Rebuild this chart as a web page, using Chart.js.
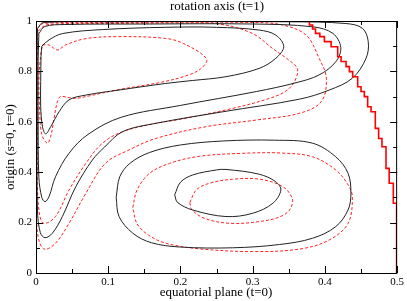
<!DOCTYPE html>
<html>
<head>
<meta charset="utf-8">
<script src="https://cdn.jsdelivr.net/npm/chart.js@4/dist/chart.umd.min.js"></script>
<style>
  html, body { margin: 0; padding: 0; background: #fff; }
</style>
</head>
<body>
<canvas id="c" width="407" height="301"></canvas>
<script>
// ─── Axis ticks ───────────────────────────────────────────────────
const xTicks = [0, 0.1, 0.2, 0.3, 0.4, 0.5];
const xMinor = [0.05, 0.15, 0.25, 0.35, 0.45];
const yTicks = [0, 0.2, 0.4, 0.6, 0.8, 1];
const yMinor = [0.1, 0.3, 0.5, 0.7, 0.9];

// ─── Black (solid) contours, [x, y] ───────────────────────────────
const black1 = [[0.008,0.90],[0.018,0.925],[0.0365,0.95],[0.092,0.966],[0.179,0.975],[0.25,0.975],[0.309,0.964],[0.332,0.944],[0.343,0.898],[0.332,0.852],[0.309,0.812],[0.263,0.779],[0.217,0.764],[0.179,0.752],[0.115,0.726],[0.069,0.706],[0.0457,0.687],[0.032,0.64],[0.0203,0.58],[0.0134,0.552],[0.009,0.58],[0.0065,0.66],[0.0065,0.76],[0.007,0.86],[0.008,0.90]];
const black2 = [[0.004,0.95],[0.012,0.978],[0.04,0.986],[0.15,0.988],[0.3,0.988],[0.383,0.977],[0.411,0.951],[0.422,0.895],[0.415,0.838],[0.392,0.786],[0.36,0.755],[0.305,0.72],[0.2,0.665],[0.118,0.618],[0.072,0.55],[0.0457,0.475],[0.027,0.382],[0.018,0.303],[0.0125,0.283],[0.008,0.30],[0.004,0.38],[0.003,0.6],[0.003,0.85],[0.004,0.95]];
const black3 = [[0.002,0.97],[0.01,0.994],[0.1,0.997],[0.35,0.997],[0.429,0.99],[0.452,0.971],[0.46,0.918],[0.457,0.852],[0.438,0.773],[0.406,0.726],[0.365,0.69],[0.259,0.64],[0.166,0.594],[0.12,0.561],[0.095,0.5],[0.078,0.448],[0.055,0.342],[0.0365,0.224],[0.0227,0.158],[0.0125,0.14],[0.006,0.16],[0.002,0.25],[0.0015,0.6],[0.0015,0.9],[0.002,0.97]];
const blackOuter = [[0.111,0.30],[0.116,0.382],[0.13,0.435],[0.157,0.478],[0.2,0.508],[0.26,0.524],[0.33,0.527],[0.383,0.515],[0.415,0.461],[0.432,0.396],[0.436,0.316],[0.432,0.25],[0.415,0.184],[0.383,0.138],[0.337,0.113],[0.272,0.1],[0.2,0.103],[0.16,0.12],[0.134,0.158],[0.115,0.224],[0.111,0.30]];
const blackInner = [[0.192,0.31],[0.2,0.36],[0.217,0.389],[0.25,0.409],[0.263,0.411],[0.309,0.392],[0.332,0.362],[0.339,0.329],[0.328,0.277],[0.30,0.237],[0.263,0.224],[0.217,0.25],[0.196,0.28],[0.192,0.31]];

// ─── Red (dashed) contours, [x, y] ────────────────────────────────
const red1 = [[0.009,0.905],[0.018,0.905],[0.0296,0.885],[0.041,0.905],[0.069,0.93],[0.115,0.938],[0.179,0.931],[0.204,0.911],[0.236,0.85],[0.228,0.81],[0.205,0.78],[0.17,0.755],[0.115,0.728],[0.069,0.70],[0.055,0.693],[0.0457,0.696],[0.034,0.70],[0.0296,0.68],[0.025,0.614],[0.0203,0.541],[0.0157,0.515],[0.008,0.55],[0.005,0.65],[0.004,0.76],[0.0065,0.865],[0.009,0.905]];
const red2 = [[0.003,0.96],[0.015,0.985],[0.1,0.99],[0.2,0.992],[0.254,0.988],[0.30,0.95],[0.328,0.89],[0.35,0.845],[0.362,0.81],[0.358,0.76],[0.345,0.72],[0.32,0.69],[0.272,0.653],[0.2,0.61],[0.166,0.594],[0.12,0.561],[0.092,0.515],[0.069,0.435],[0.0457,0.329],[0.027,0.224],[0.011,0.197],[0.005,0.23],[0.002,0.35],[0.002,0.6],[0.002,0.9],[0.003,0.96]];
const red3 = [[0.002,0.97],[0.01,0.99],[0.1,0.994],[0.3,0.994],[0.34,0.985],[0.374,0.944],[0.392,0.852],[0.402,0.773],[0.395,0.68],[0.365,0.634],[0.305,0.607],[0.236,0.581],[0.166,0.534],[0.13,0.49],[0.096,0.435],[0.069,0.316],[0.0457,0.197],[0.027,0.118],[0.0125,0.094],[0.005,0.12],[0.001,0.2],[0.001,0.6],[0.001,0.9],[0.002,0.97]];
const redOuter = [[0.134,0.26],[0.14,0.33],[0.157,0.395],[0.185,0.435],[0.226,0.463],[0.286,0.475],[0.34,0.476],[0.383,0.461],[0.415,0.409],[0.432,0.35],[0.438,0.303],[0.432,0.197],[0.406,0.131],[0.365,0.095],[0.3,0.085],[0.226,0.096],[0.18,0.118],[0.156,0.15],[0.14,0.195],[0.134,0.26]];
const redInner = [[0.213,0.28],[0.222,0.33],[0.24,0.356],[0.272,0.372],[0.31,0.372],[0.342,0.342],[0.355,0.293],[0.351,0.25],[0.337,0.222],[0.309,0.204],[0.27,0.197],[0.235,0.215],[0.216,0.25],[0.213,0.28]];

// ─── Red staircase (outer boundary) ───────────────────────────────
const stairX = [0.369,0.3786,0.383,0.387,0.393,0.3993,0.4086,0.4177,0.4224,0.4293,0.4339,0.4385,0.4454,0.45,0.4546,0.4592,0.4639,0.4698,0.4744,0.479,0.4846,0.489,0.4947,0.4993,0.4993];
const stairY = [1.0,0.984,0.968,0.951,0.938,0.918,0.898,0.858,0.839,0.819,0.799,0.779,0.739,0.72,0.70,0.66,0.64,0.574,0.534,0.501,0.415,0.356,0.277,0.171,0];

const SERIF = '"Liberation Serif", "DejaVu Serif", serif';

const curve = (pts, color, dash) => ({
  data: pts.map(([x, y]) => ({ x, y })),
  showLine: true,
  borderColor: color,
  borderWidth: 1,
  borderDash: dash,
  pointRadius: 0,
  tension: 0.35,
  fill: false,
});

const datasets = [
  {
    data: stairX.map((x, i) => ({ x, y: stairY[i] })),
    showLine: true,
    stepped: 'before',
    borderColor: '#ff0000',
    borderWidth: 1.6,
    pointRadius: 0,
    fill: false,
  },
  curve(black1, '#222', []),
  curve(black2, '#222', []),
  curve(black3, '#222', []),
  curve(blackOuter, '#222', []),
  curve(blackInner, '#222', []),
  curve(red1, '#ff2020', [3, 2]),
  curve(red2, '#ff2020', [3, 2]),
  curve(red3, '#ff2020', [3, 2]),
  curve(redOuter, '#ff2020', [3, 2]),
  curve(redInner, '#ff2020', [3, 2]),
];

// ─── Frame, inward ticks and titles ───────────────────────────────
const framePlugin = {
  id: 'frame',
  afterDraw(chart) {
    const { ctx, chartArea: a, scales: { x, y } } = chart;
    ctx.save();
    ctx.strokeStyle = '#000';
    ctx.lineWidth = 1;
    ctx.strokeRect(a.left + 0.5, a.top + 0.5, a.right - a.left - 1, a.bottom - a.top);

    ctx.beginPath();
    const xt = (v, len) => {
      const p = Math.round(x.getPixelForValue(v)) + 0.5;
      ctx.moveTo(p, a.bottom); ctx.lineTo(p, a.bottom - len);
      ctx.moveTo(p, a.top); ctx.lineTo(p, a.top + len);
    };
    const yt = (v, len) => {
      const p = Math.round(y.getPixelForValue(v)) + 0.5;
      ctx.moveTo(a.left, p); ctx.lineTo(a.left + len, p);
      ctx.moveTo(a.right, p); ctx.lineTo(a.right - len, p);
    };
    xTicks.forEach(v => xt(v, 7));
    xMinor.forEach(v => xt(v, 4));
    yTicks.forEach(v => yt(v, 7));
    yMinor.forEach(v => yt(v, 4));
    ctx.stroke();

    ctx.fillStyle = '#000';
    ctx.font = `13px ${SERIF}`;
    ctx.textAlign = 'center';
    ctx.textBaseline = 'middle';
    ctx.fillText('rotation axis (t=1)', 217, 7);
    ctx.fillText('equatorial plane (t=0)', 216, 293);
    ctx.translate(11, 147);
    ctx.rotate(-Math.PI / 2);
    ctx.fillText('origin (s=0, t=0)', 0, 0);
    ctx.restore();
  },
};

const fmt = v => String(Math.round(v * 10) / 10);

new Chart(document.getElementById('c'), {
  type: 'scatter',
  data: { datasets },
  options: {
    responsive: false,
    animation: false,
    layout: { padding: { top: 21, right: 9, left: 0, bottom: 0 } },
    plugins: { legend: { display: false }, tooltip: { enabled: false } },
    scales: {
      x: {
        type: 'linear', min: 0, max: 0.5,
        afterBuildTicks: s => { s.ticks = xTicks.map(value => ({ value })); },
        afterFit: s => { s.height = 28; },
        grid: { display: false, drawTicks: false },
        border: { display: false },
        ticks: { color: '#000', padding: 3, maxRotation: 0, font: { size: 11, family: SERIF }, callback: fmt },
      },
      y: {
        type: 'linear', min: 0, max: 1,
        afterBuildTicks: s => { s.ticks = yTicks.map(value => ({ value })); },
        afterFit: s => { s.width = 36; },
        grid: { display: false, drawTicks: false },
        border: { display: false },
        ticks: { color: '#000', padding: 4, font: { size: 11, family: SERIF }, callback: fmt },
      },
    },
  },
  plugins: [framePlugin],
});
</script>
</body>
</html>
